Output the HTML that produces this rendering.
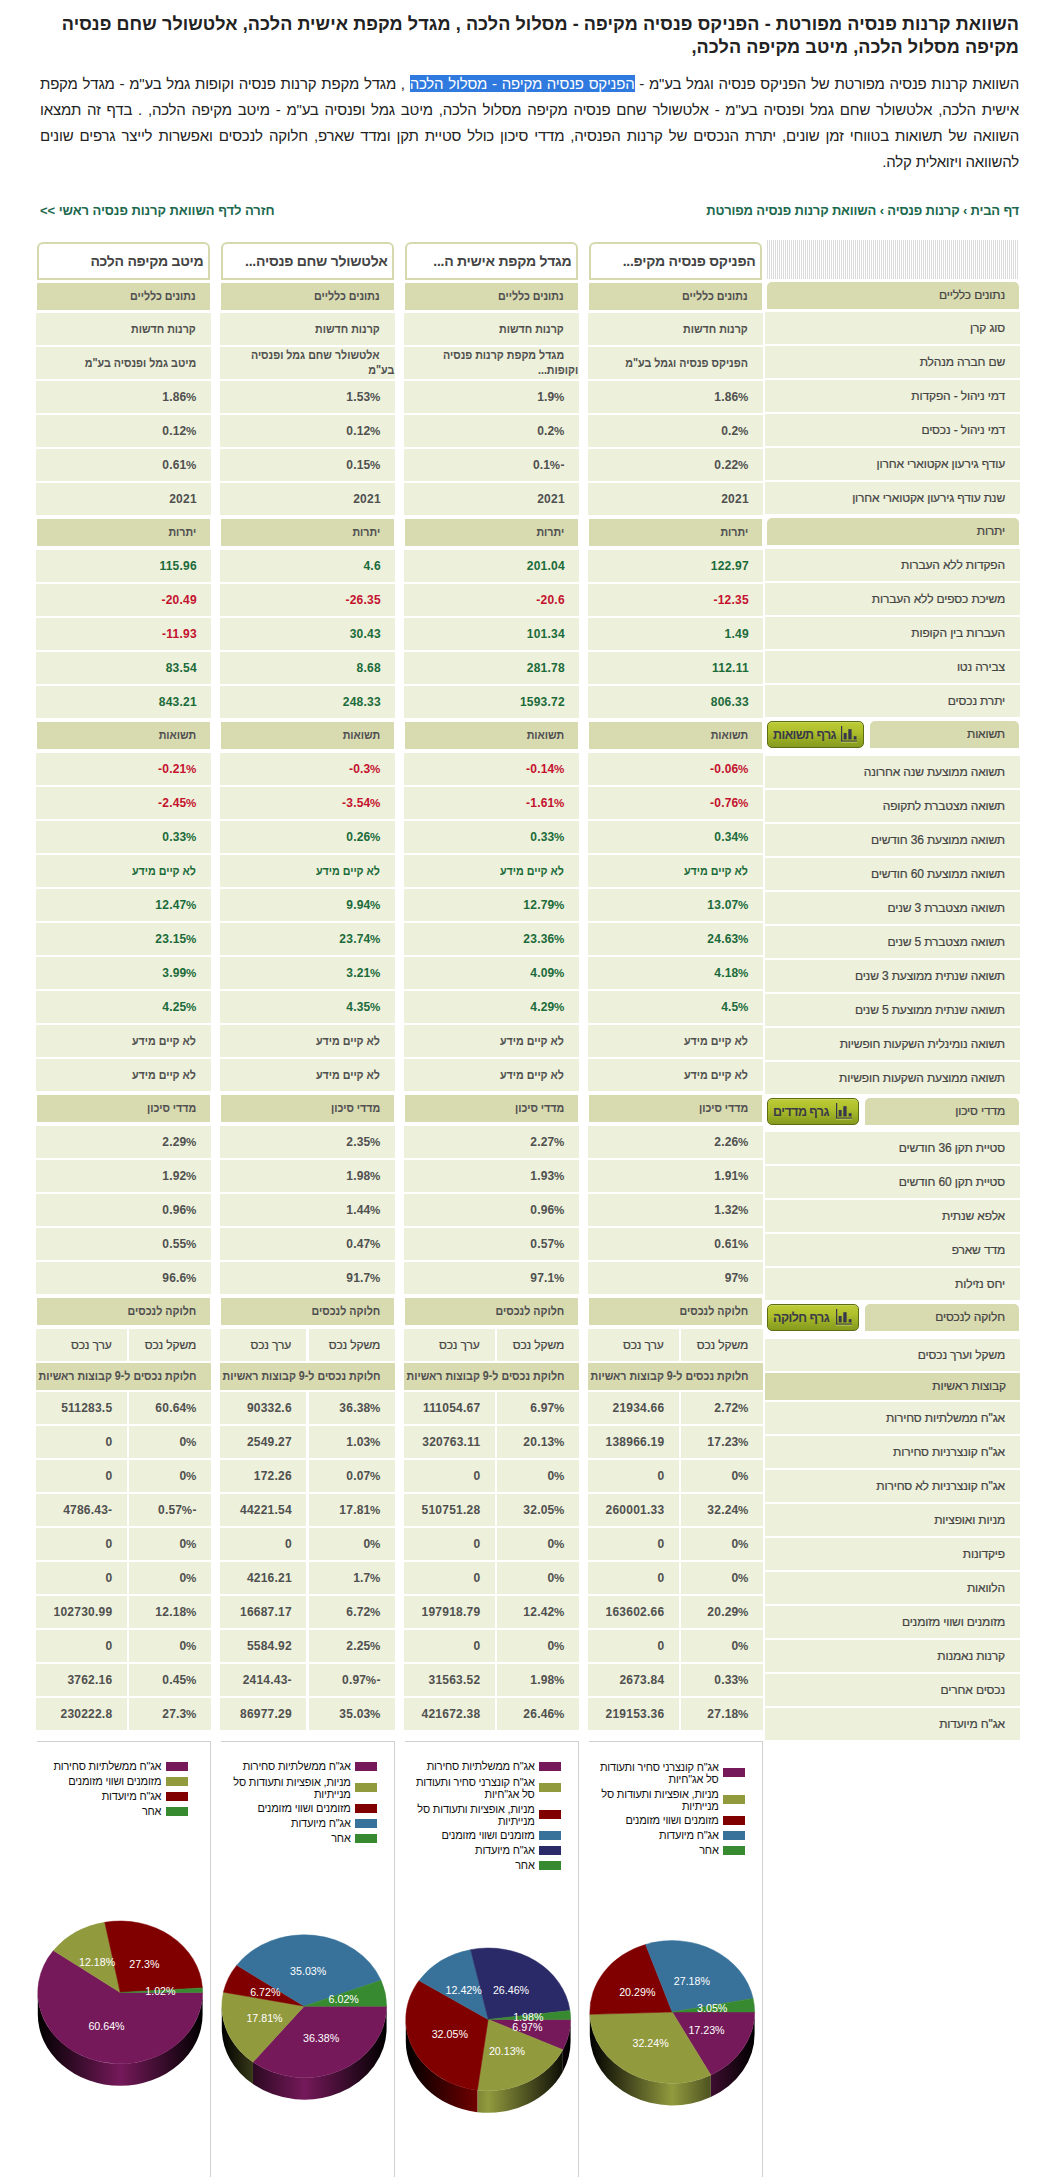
<!DOCTYPE html><html lang="he" dir="rtl"><head><meta charset="utf-8"><title>השוואת קרנות פנסיה</title><style>
html,body{margin:0;padding:0;background:#fff;}
body{width:1064px;height:2177px;position:relative;overflow:hidden;direction:rtl;font-family:"Liberation Sans",sans-serif;color:#444444;}
.abs{position:absolute;box-sizing:border-box;}
h1{position:absolute;margin:0;right:45px;left:40px;top:12.8px;font-size:18px;line-height:23px;font-weight:bold;color:#222;white-space:nowrap;letter-spacing:0.08px;}
p.intro{position:absolute;margin:0;right:45px;left:40px;top:71px;font-size:15px;line-height:26px;color:#222;letter-spacing:-0.2px;}
p.intro span.l{display:block;text-align:justify;text-align-last:justify;}
p.intro span.last{display:block;text-align:right;}
.sel{background:#3079de;color:#fff;}
.bc{position:absolute;top:203.2px;font-size:13px;font-weight:bold;color:#1b684d;line-height:16px;white-space:nowrap;letter-spacing:-0.17px;}
.hdr{position:absolute;box-sizing:border-box;background:#d8dab0;height:27px;line-height:27px;font-size:12px;text-align:right;padding-right:14px;white-space:nowrap;color:#444444;}
.row{position:absolute;box-sizing:border-box;background:#edf0da;height:32px;line-height:32px;font-size:12px;text-align:right;padding-right:15px;white-space:nowrap;color:#444444;}
.lab{letter-spacing:-0.15px;-webkit-text-stroke:0.2px #444;}
.d span[dir=ltr]{font-size:12px;letter-spacing:0.22px;position:relative;left:0.8px;}
.pc{font-size:11.6px;letter-spacing:0;margin-right:0.5px;margin-left:-0.5px;}
.lab.hdr{border-radius:5px 5px 0 0;padding-right:14px;}
.sx{display:inline-block;transform:scaleX(0.89);transform-origin:100% 50%;white-space:nowrap;}
.d{font-weight:bold;color:#505050;}
.g{color:#1b6b3a;}
.r{color:#c4122f;}
.title{position:absolute;box-sizing:border-box;border:2px solid #d6d9ae;border-radius:6px 6px 0 0;background:#fff;height:38px;line-height:35px;font-size:14px;font-weight:bold;text-align:right;padding-right:4.5px;letter-spacing:-0.25px;white-space:nowrap;color:#444;}
.two{line-height:15px;padding-top:1px;padding-right:1px;}
.btn{position:absolute;box-sizing:border-box;height:27px;border:1px solid #5d6d12;border-radius:5px;background:linear-gradient(#bccb35,#aebf2c 40%,#94a823 75%,#869b1f);box-shadow:inset 0 1px 0 rgba(255,255,255,.18);font-size:12.5px;font-weight:bold;color:#3a3a48;line-height:26px;text-align:left;padding-left:5px;white-space:nowrap;letter-spacing:-0.55px;}
.chart{position:absolute;box-sizing:border-box;border-top:1px solid #d0d0d0;border-right:1px solid #d0d0d0;top:1741px;height:440px;overflow:hidden;}
.leg{position:absolute;font-size:11px;line-height:12.5px;color:#111;text-align:right;white-space:nowrap;letter-spacing:-0.2px;}
.sw{position:absolute;width:22px;height:9px;}
</style></head><body>
<h1>השוואת קרנות פנסיה מפורטת - הפניקס פנסיה מקיפה - מסלול הלכה , מגדל מקפת אישית הלכה, אלטשולר שחם פנסיה<br>מקיפה מסלול הלכה, מיטב מקיפה הלכה,</h1>
<p class="intro"><span class="l">השוואת קרנות פנסיה מפורטת של הפניקס פנסיה וגמל בע"מ - <span class="sel">הפניקס פנסיה מקיפה - מסלול הלכה</span> , מגדל מקפת קרנות פנסיה וקופות גמל בע"מ - מגדל מקפת</span><span class="l">אישית הלכה, אלטשולר שחם גמל ופנסיה בע"מ - אלטשולר שחם פנסיה מקיפה מסלול הלכה, מיטב גמל ופנסיה בע"מ - מיטב מקיפה הלכה, . בדף זה תמצאו</span><span class="l">השוואה של תשואות בטווחי זמן שונים, יתרת הנכסים של קרנות הפנסיה, מדדי סיכון כולל סטיית תקן ומדד שארפ, חלוקה לנכסים ואפשרות לייצר גרפים שונים</span><span class="last">להשוואה ויזואלית קלה.</span></p>
<div class="bc" style="right:45px">דף הבית › קרנות פנסיה › השוואת קרנות פנסיה מפורטת</div>
<div class="bc" style="left:40px;letter-spacing:-0.05px">חזרה לדף השוואת קרנות פנסיה ראשי &gt;&gt;</div>
<div class="abs" style="left:767px;top:240px;width:252px;height:39px;background:repeating-linear-gradient(90deg,#dcdcdc 0,#dcdcdc 1px,#fff 1px,#fff 2px)"></div>
<div class="hdr lab" style="left:767px;width:252px;top:282px;height:27px">נתונים כלליים</div>
<div class="row lab" style="left:765px;width:255px;top:312px;height:32px;line-height:32px">סוג קרן</div>
<div class="row lab" style="left:765px;width:255px;top:346px;height:32px;line-height:32px">שם חברה מנהלת</div>
<div class="row lab" style="left:765px;width:255px;top:380px;height:32px;line-height:32px">דמי ניהול - הפקדות</div>
<div class="row lab" style="left:765px;width:255px;top:414px;height:32px;line-height:32px">דמי ניהול - נכסים</div>
<div class="row lab" style="left:765px;width:255px;top:448px;height:32px;line-height:32px">עודף גירעון אקטוארי אחרון</div>
<div class="row lab" style="left:765px;width:255px;top:482px;height:32px;line-height:32px">שנת עודף גירעון אקטוארי אחרון</div>
<div class="hdr lab" style="left:767px;width:252px;top:518px;height:27px">יתרות</div>
<div class="row lab" style="left:765px;width:255px;top:549px;height:32px;line-height:32px">הפקדות ללא העברות</div>
<div class="row lab" style="left:765px;width:255px;top:583px;height:32px;line-height:32px">משיכת כספים ללא העברות</div>
<div class="row lab" style="left:765px;width:255px;top:617px;height:32px;line-height:32px">העברות בין הקופות</div>
<div class="row lab" style="left:765px;width:255px;top:651px;height:32px;line-height:32px">צבירה נטו</div>
<div class="row lab" style="left:765px;width:255px;top:685px;height:32px;line-height:32px">יתרת נכסים</div>
<div class="hdr lab" style="left:870px;width:149px;top:721px;height:27px">תשואות</div>
<div class="btn" style="left:767px;width:97px;top:721px">גרף תשואות<svg width="18" height="17" viewBox="0 0 18 17" style="position:absolute;top:4px;right:4.7px"><g fill="#37364f"><rect x="1" y="0" width="1.2" height="15.5"/><rect x="1" y="14.6" width="16" height="1.1"/><rect x="3.7" y="7" width="2.9" height="6.4"/><rect x="8.3" y="3.2" width="3.3" height="10.2"/><rect x="13.7" y="10.2" width="2.8" height="3.2"/></g><rect x="1" y="15.7" width="16" height="1" fill="#d5e07a" opacity=".6"/></svg></div>
<div class="row lab" style="left:765px;width:255px;top:756px;height:32px;line-height:32px">תשואה ממוצעת שנה אחרונה</div>
<div class="row lab" style="left:765px;width:255px;top:790px;height:32px;line-height:32px">תשואה מצטברת לתקופה</div>
<div class="row lab" style="left:765px;width:255px;top:824px;height:32px;line-height:32px">תשואה ממוצעת 36 חודשים</div>
<div class="row lab" style="left:765px;width:255px;top:858px;height:32px;line-height:32px">תשואה ממוצעת 60 חודשים</div>
<div class="row lab" style="left:765px;width:255px;top:892px;height:32px;line-height:32px">תשואה מצטברת 3 שנים</div>
<div class="row lab" style="left:765px;width:255px;top:926px;height:32px;line-height:32px">תשואה מצטברת 5 שנים</div>
<div class="row lab" style="left:765px;width:255px;top:960px;height:32px;line-height:32px">תשואה שנתית ממוצעת 3 שנים</div>
<div class="row lab" style="left:765px;width:255px;top:994px;height:32px;line-height:32px">תשואה שנתית ממוצעת 5 שנים</div>
<div class="row lab" style="left:765px;width:255px;top:1028px;height:32px;line-height:32px">תשואה נומינלית השקעות חופשיות</div>
<div class="row lab" style="left:765px;width:255px;top:1062px;height:32px;line-height:32px">תשואה ממוצעת השקעות חופשיות</div>
<div class="hdr lab" style="left:865px;width:154px;top:1098px;height:27px">מדדי סיכון</div>
<div class="btn" style="left:767px;width:92px;top:1098px">גרף מדדים<svg width="18" height="17" viewBox="0 0 18 17" style="position:absolute;top:4px;right:4.7px"><g fill="#37364f"><rect x="1" y="0" width="1.2" height="15.5"/><rect x="1" y="14.6" width="16" height="1.1"/><rect x="3.7" y="7" width="2.9" height="6.4"/><rect x="8.3" y="3.2" width="3.3" height="10.2"/><rect x="13.7" y="10.2" width="2.8" height="3.2"/></g><rect x="1" y="15.7" width="16" height="1" fill="#d5e07a" opacity=".6"/></svg></div>
<div class="row lab" style="left:765px;width:255px;top:1132px;height:32px;line-height:32px">סטיית תקן 36 חודשים</div>
<div class="row lab" style="left:765px;width:255px;top:1166px;height:32px;line-height:32px">סטיית תקן 60 חודשים</div>
<div class="row lab" style="left:765px;width:255px;top:1200px;height:32px;line-height:32px">אלפא שנתית</div>
<div class="row lab" style="left:765px;width:255px;top:1234px;height:32px;line-height:32px">מדד שארפ</div>
<div class="row lab" style="left:765px;width:255px;top:1268px;height:32px;line-height:32px">יחס נזילות</div>
<div class="hdr lab" style="left:865px;width:154px;top:1304px;height:27px">חלוקה לנכסים</div>
<div class="btn" style="left:767px;width:92px;top:1304px">גרף חלוקה<svg width="18" height="17" viewBox="0 0 18 17" style="position:absolute;top:4px;right:4.7px"><g fill="#37364f"><rect x="1" y="0" width="1.2" height="15.5"/><rect x="1" y="14.6" width="16" height="1.1"/><rect x="3.7" y="7" width="2.9" height="6.4"/><rect x="8.3" y="3.2" width="3.3" height="10.2"/><rect x="13.7" y="10.2" width="2.8" height="3.2"/></g><rect x="1" y="15.7" width="16" height="1" fill="#d5e07a" opacity=".6"/></svg></div>
<div class="row lab" style="left:765px;width:255px;top:1339px;height:32px;line-height:32px">משקל וערך נכסים</div>
<div class="hdr" style="left:765px;width:255px;top:1373px;letter-spacing:-0.15px;-webkit-text-stroke:0.2px #444">קבוצות ראשיות</div>
<div class="row lab" style="left:765px;width:255px;top:1402px;height:32px;line-height:32px">אג"ח ממשלתיות סחירות</div>
<div class="row lab" style="left:765px;width:255px;top:1436px;height:32px;line-height:32px">אג"ח קונצרניות סחירות</div>
<div class="row lab" style="left:765px;width:255px;top:1470px;height:32px;line-height:32px">אג"ח קונצרניות לא סחירות</div>
<div class="row lab" style="left:765px;width:255px;top:1504px;height:32px;line-height:32px">מניות ואופציות</div>
<div class="row lab" style="left:765px;width:255px;top:1538px;height:32px;line-height:32px">פיקדונות</div>
<div class="row lab" style="left:765px;width:255px;top:1572px;height:32px;line-height:32px">הלוואות</div>
<div class="row lab" style="left:765px;width:255px;top:1606px;height:32px;line-height:32px">מזומנים ושווי מזומנים</div>
<div class="row lab" style="left:765px;width:255px;top:1640px;height:32px;line-height:32px">קרנות נאמנות</div>
<div class="row lab" style="left:765px;width:255px;top:1674px;height:32px;line-height:32px">נכסים אחרים</div>
<div class="row lab" style="left:765px;width:255px;top:1708px;height:32px;line-height:32px">אג"ח מיועדות</div>
<div class="title" style="left:589px;width:173px;top:242px">הפניקס פנסיה מקיפ...</div>
<div class="hdr d" style="left:589px;width:173px;top:283px;"><span class="sx">נתונים כלליים</span></div>
<div class="row d " style="left:588px;width:175px;top:313px;height:32px;line-height:32px"><span class="sx">קרנות חדשות</span></div>
<div class="row d " style="left:588px;width:175px;top:347px;height:32px;line-height:32px"><span class="sx">הפניקס פנסיה וגמל בע"מ</span></div>
<div class="row d " style="left:588px;width:175px;top:381px;height:32px;line-height:32px"><span dir="ltr">1.86<span class="pc">%</span></span></div>
<div class="row d " style="left:588px;width:175px;top:415px;height:32px;line-height:32px"><span dir="ltr">0.2<span class="pc">%</span></span></div>
<div class="row d " style="left:588px;width:175px;top:449px;height:32px;line-height:32px"><span dir="ltr">0.22<span class="pc">%</span></span></div>
<div class="row d " style="left:588px;width:175px;top:483px;height:32px;line-height:32px"><span dir="ltr">2021</span></div>
<div class="hdr d" style="left:589px;width:173px;top:519px;"><span class="sx">יתרות</span></div>
<div class="row d g" style="left:588px;width:175px;top:550px;height:32px;line-height:32px"><span dir="ltr">122.97</span></div>
<div class="row d r" style="left:588px;width:175px;top:584px;height:32px;line-height:32px"><span dir="ltr">-12.35</span></div>
<div class="row d g" style="left:588px;width:175px;top:618px;height:32px;line-height:32px"><span dir="ltr">1.49</span></div>
<div class="row d g" style="left:588px;width:175px;top:652px;height:32px;line-height:32px"><span dir="ltr">112.11</span></div>
<div class="row d g" style="left:588px;width:175px;top:686px;height:32px;line-height:32px"><span dir="ltr">806.33</span></div>
<div class="hdr d" style="left:589px;width:173px;top:722px;"><span class="sx">תשואות</span></div>
<div class="row d r" style="left:588px;width:175px;top:753px;height:32px;line-height:32px"><span dir="ltr">-0.06<span class="pc">%</span></span></div>
<div class="row d r" style="left:588px;width:175px;top:787px;height:32px;line-height:32px"><span dir="ltr">-0.76<span class="pc">%</span></span></div>
<div class="row d g" style="left:588px;width:175px;top:821px;height:32px;line-height:32px"><span dir="ltr">0.34<span class="pc">%</span></span></div>
<div class="row d g" style="left:588px;width:175px;top:855px;height:32px;line-height:32px"><span class="sx">לא קיים מידע</span></div>
<div class="row d g" style="left:588px;width:175px;top:889px;height:32px;line-height:32px"><span dir="ltr">13.07<span class="pc">%</span></span></div>
<div class="row d g" style="left:588px;width:175px;top:923px;height:32px;line-height:32px"><span dir="ltr">24.63<span class="pc">%</span></span></div>
<div class="row d g" style="left:588px;width:175px;top:957px;height:32px;line-height:32px"><span dir="ltr">4.18<span class="pc">%</span></span></div>
<div class="row d g" style="left:588px;width:175px;top:991px;height:32px;line-height:32px"><span dir="ltr">4.5<span class="pc">%</span></span></div>
<div class="row d " style="left:588px;width:175px;top:1025px;height:32px;line-height:32px"><span class="sx">לא קיים מידע</span></div>
<div class="row d " style="left:588px;width:175px;top:1059px;height:32px;line-height:32px"><span class="sx">לא קיים מידע</span></div>
<div class="hdr d" style="left:589px;width:173px;top:1095px;"><span class="sx">מדדי סיכון</span></div>
<div class="row d " style="left:588px;width:175px;top:1126px;height:32px;line-height:32px"><span dir="ltr">2.26<span class="pc">%</span></span></div>
<div class="row d " style="left:588px;width:175px;top:1160px;height:32px;line-height:32px"><span dir="ltr">1.91<span class="pc">%</span></span></div>
<div class="row d " style="left:588px;width:175px;top:1194px;height:32px;line-height:32px"><span dir="ltr">1.32<span class="pc">%</span></span></div>
<div class="row d " style="left:588px;width:175px;top:1228px;height:32px;line-height:32px"><span dir="ltr">0.61<span class="pc">%</span></span></div>
<div class="row d " style="left:588px;width:175px;top:1262px;height:32px;line-height:32px"><span dir="ltr">97<span class="pc">%</span></span></div>
<div class="hdr d" style="left:589px;width:173px;top:1298px;"><span class="sx">חלוקה לנכסים</span></div>
<div class="row lab" style="left:681px;width:82px;top:1329px">משקל נכס</div>
<div class="row lab" style="left:588px;width:90.5px;top:1329px">ערך נכס</div>
<div class="hdr d" style="left:588px;width:175px;top:1363px;padding-right:14px"><span class="sx">חלוקת נכסים ל-9 קבוצות ראשיות</span></div>
<div class="row d" style="left:681px;width:82px;top:1392px"><span dir="ltr">2.72<span class="pc">%</span></span></div>
<div class="row d" style="left:588px;width:90.5px;top:1392px"><span dir="ltr">21934.66</span></div>
<div class="row d" style="left:681px;width:82px;top:1426px"><span dir="ltr">17.23<span class="pc">%</span></span></div>
<div class="row d" style="left:588px;width:90.5px;top:1426px"><span dir="ltr">138966.19</span></div>
<div class="row d" style="left:681px;width:82px;top:1460px"><span dir="ltr">0<span class="pc">%</span></span></div>
<div class="row d" style="left:588px;width:90.5px;top:1460px"><span dir="ltr">0</span></div>
<div class="row d" style="left:681px;width:82px;top:1494px"><span dir="ltr">32.24<span class="pc">%</span></span></div>
<div class="row d" style="left:588px;width:90.5px;top:1494px"><span dir="ltr">260001.33</span></div>
<div class="row d" style="left:681px;width:82px;top:1528px"><span dir="ltr">0<span class="pc">%</span></span></div>
<div class="row d" style="left:588px;width:90.5px;top:1528px"><span dir="ltr">0</span></div>
<div class="row d" style="left:681px;width:82px;top:1562px"><span dir="ltr">0<span class="pc">%</span></span></div>
<div class="row d" style="left:588px;width:90.5px;top:1562px"><span dir="ltr">0</span></div>
<div class="row d" style="left:681px;width:82px;top:1596px"><span dir="ltr">20.29<span class="pc">%</span></span></div>
<div class="row d" style="left:588px;width:90.5px;top:1596px"><span dir="ltr">163602.66</span></div>
<div class="row d" style="left:681px;width:82px;top:1630px"><span dir="ltr">0<span class="pc">%</span></span></div>
<div class="row d" style="left:588px;width:90.5px;top:1630px"><span dir="ltr">0</span></div>
<div class="row d" style="left:681px;width:82px;top:1664px"><span dir="ltr">0.33<span class="pc">%</span></span></div>
<div class="row d" style="left:588px;width:90.5px;top:1664px"><span dir="ltr">2673.84</span></div>
<div class="row d" style="left:681px;width:82px;top:1698px"><span dir="ltr">27.18<span class="pc">%</span></span></div>
<div class="row d" style="left:588px;width:90.5px;top:1698px"><span dir="ltr">219153.36</span></div>
<div class="title" style="left:405px;width:173px;top:242px">מגדל מקפת אישית ה...</div>
<div class="hdr d" style="left:405px;width:173px;top:283px;"><span class="sx">נתונים כלליים</span></div>
<div class="row d " style="left:404px;width:175px;top:313px;height:32px;line-height:32px"><span class="sx">קרנות חדשות</span></div>
<div class="row d  two" style="left:404px;width:175px;top:347px;height:32px;"><span class="sx" style="margin-right:14px">מגדל מקפת קרנות פנסיה</span><br><span class="sx">וקופות...</span></div>
<div class="row d " style="left:404px;width:175px;top:381px;height:32px;line-height:32px"><span dir="ltr">1.9<span class="pc">%</span></span></div>
<div class="row d " style="left:404px;width:175px;top:415px;height:32px;line-height:32px"><span dir="ltr">0.2<span class="pc">%</span></span></div>
<div class="row d " style="left:404px;width:175px;top:449px;height:32px;line-height:32px"><span dir="ltr">0.1<span class="pc">%</span>-</span></div>
<div class="row d " style="left:404px;width:175px;top:483px;height:32px;line-height:32px"><span dir="ltr">2021</span></div>
<div class="hdr d" style="left:405px;width:173px;top:519px;"><span class="sx">יתרות</span></div>
<div class="row d g" style="left:404px;width:175px;top:550px;height:32px;line-height:32px"><span dir="ltr">201.04</span></div>
<div class="row d r" style="left:404px;width:175px;top:584px;height:32px;line-height:32px"><span dir="ltr">-20.6</span></div>
<div class="row d g" style="left:404px;width:175px;top:618px;height:32px;line-height:32px"><span dir="ltr">101.34</span></div>
<div class="row d g" style="left:404px;width:175px;top:652px;height:32px;line-height:32px"><span dir="ltr">281.78</span></div>
<div class="row d g" style="left:404px;width:175px;top:686px;height:32px;line-height:32px"><span dir="ltr">1593.72</span></div>
<div class="hdr d" style="left:405px;width:173px;top:722px;"><span class="sx">תשואות</span></div>
<div class="row d r" style="left:404px;width:175px;top:753px;height:32px;line-height:32px"><span dir="ltr">-0.14<span class="pc">%</span></span></div>
<div class="row d r" style="left:404px;width:175px;top:787px;height:32px;line-height:32px"><span dir="ltr">-1.61<span class="pc">%</span></span></div>
<div class="row d g" style="left:404px;width:175px;top:821px;height:32px;line-height:32px"><span dir="ltr">0.33<span class="pc">%</span></span></div>
<div class="row d g" style="left:404px;width:175px;top:855px;height:32px;line-height:32px"><span class="sx">לא קיים מידע</span></div>
<div class="row d g" style="left:404px;width:175px;top:889px;height:32px;line-height:32px"><span dir="ltr">12.79<span class="pc">%</span></span></div>
<div class="row d g" style="left:404px;width:175px;top:923px;height:32px;line-height:32px"><span dir="ltr">23.36<span class="pc">%</span></span></div>
<div class="row d g" style="left:404px;width:175px;top:957px;height:32px;line-height:32px"><span dir="ltr">4.09<span class="pc">%</span></span></div>
<div class="row d g" style="left:404px;width:175px;top:991px;height:32px;line-height:32px"><span dir="ltr">4.29<span class="pc">%</span></span></div>
<div class="row d " style="left:404px;width:175px;top:1025px;height:32px;line-height:32px"><span class="sx">לא קיים מידע</span></div>
<div class="row d " style="left:404px;width:175px;top:1059px;height:32px;line-height:32px"><span class="sx">לא קיים מידע</span></div>
<div class="hdr d" style="left:405px;width:173px;top:1095px;"><span class="sx">מדדי סיכון</span></div>
<div class="row d " style="left:404px;width:175px;top:1126px;height:32px;line-height:32px"><span dir="ltr">2.27<span class="pc">%</span></span></div>
<div class="row d " style="left:404px;width:175px;top:1160px;height:32px;line-height:32px"><span dir="ltr">1.93<span class="pc">%</span></span></div>
<div class="row d " style="left:404px;width:175px;top:1194px;height:32px;line-height:32px"><span dir="ltr">0.96<span class="pc">%</span></span></div>
<div class="row d " style="left:404px;width:175px;top:1228px;height:32px;line-height:32px"><span dir="ltr">0.57<span class="pc">%</span></span></div>
<div class="row d " style="left:404px;width:175px;top:1262px;height:32px;line-height:32px"><span dir="ltr">97.1<span class="pc">%</span></span></div>
<div class="hdr d" style="left:405px;width:173px;top:1298px;"><span class="sx">חלוקה לנכסים</span></div>
<div class="row lab" style="left:497px;width:82px;top:1329px">משקל נכס</div>
<div class="row lab" style="left:404px;width:90.5px;top:1329px">ערך נכס</div>
<div class="hdr d" style="left:404px;width:175px;top:1363px;padding-right:14px"><span class="sx">חלוקת נכסים ל-9 קבוצות ראשיות</span></div>
<div class="row d" style="left:497px;width:82px;top:1392px"><span dir="ltr">6.97<span class="pc">%</span></span></div>
<div class="row d" style="left:404px;width:90.5px;top:1392px"><span dir="ltr">111054.67</span></div>
<div class="row d" style="left:497px;width:82px;top:1426px"><span dir="ltr">20.13<span class="pc">%</span></span></div>
<div class="row d" style="left:404px;width:90.5px;top:1426px"><span dir="ltr">320763.11</span></div>
<div class="row d" style="left:497px;width:82px;top:1460px"><span dir="ltr">0<span class="pc">%</span></span></div>
<div class="row d" style="left:404px;width:90.5px;top:1460px"><span dir="ltr">0</span></div>
<div class="row d" style="left:497px;width:82px;top:1494px"><span dir="ltr">32.05<span class="pc">%</span></span></div>
<div class="row d" style="left:404px;width:90.5px;top:1494px"><span dir="ltr">510751.28</span></div>
<div class="row d" style="left:497px;width:82px;top:1528px"><span dir="ltr">0<span class="pc">%</span></span></div>
<div class="row d" style="left:404px;width:90.5px;top:1528px"><span dir="ltr">0</span></div>
<div class="row d" style="left:497px;width:82px;top:1562px"><span dir="ltr">0<span class="pc">%</span></span></div>
<div class="row d" style="left:404px;width:90.5px;top:1562px"><span dir="ltr">0</span></div>
<div class="row d" style="left:497px;width:82px;top:1596px"><span dir="ltr">12.42<span class="pc">%</span></span></div>
<div class="row d" style="left:404px;width:90.5px;top:1596px"><span dir="ltr">197918.79</span></div>
<div class="row d" style="left:497px;width:82px;top:1630px"><span dir="ltr">0<span class="pc">%</span></span></div>
<div class="row d" style="left:404px;width:90.5px;top:1630px"><span dir="ltr">0</span></div>
<div class="row d" style="left:497px;width:82px;top:1664px"><span dir="ltr">1.98<span class="pc">%</span></span></div>
<div class="row d" style="left:404px;width:90.5px;top:1664px"><span dir="ltr">31563.52</span></div>
<div class="row d" style="left:497px;width:82px;top:1698px"><span dir="ltr">26.46<span class="pc">%</span></span></div>
<div class="row d" style="left:404px;width:90.5px;top:1698px"><span dir="ltr">421672.38</span></div>
<div class="title" style="left:221px;width:173px;top:242px">אלטשולר שחם פנסיה...</div>
<div class="hdr d" style="left:221px;width:173px;top:283px;"><span class="sx">נתונים כלליים</span></div>
<div class="row d " style="left:220px;width:175px;top:313px;height:32px;line-height:32px"><span class="sx">קרנות חדשות</span></div>
<div class="row d  two" style="left:220px;width:175px;top:347px;height:32px;"><span class="sx" style="margin-right:14px">אלטשולר שחם גמל ופנסיה</span><br><span class="sx">בע"מ</span></div>
<div class="row d " style="left:220px;width:175px;top:381px;height:32px;line-height:32px"><span dir="ltr">1.53<span class="pc">%</span></span></div>
<div class="row d " style="left:220px;width:175px;top:415px;height:32px;line-height:32px"><span dir="ltr">0.12<span class="pc">%</span></span></div>
<div class="row d " style="left:220px;width:175px;top:449px;height:32px;line-height:32px"><span dir="ltr">0.15<span class="pc">%</span></span></div>
<div class="row d " style="left:220px;width:175px;top:483px;height:32px;line-height:32px"><span dir="ltr">2021</span></div>
<div class="hdr d" style="left:221px;width:173px;top:519px;"><span class="sx">יתרות</span></div>
<div class="row d g" style="left:220px;width:175px;top:550px;height:32px;line-height:32px"><span dir="ltr">4.6</span></div>
<div class="row d r" style="left:220px;width:175px;top:584px;height:32px;line-height:32px"><span dir="ltr">-26.35</span></div>
<div class="row d g" style="left:220px;width:175px;top:618px;height:32px;line-height:32px"><span dir="ltr">30.43</span></div>
<div class="row d g" style="left:220px;width:175px;top:652px;height:32px;line-height:32px"><span dir="ltr">8.68</span></div>
<div class="row d g" style="left:220px;width:175px;top:686px;height:32px;line-height:32px"><span dir="ltr">248.33</span></div>
<div class="hdr d" style="left:221px;width:173px;top:722px;"><span class="sx">תשואות</span></div>
<div class="row d r" style="left:220px;width:175px;top:753px;height:32px;line-height:32px"><span dir="ltr">-0.3<span class="pc">%</span></span></div>
<div class="row d r" style="left:220px;width:175px;top:787px;height:32px;line-height:32px"><span dir="ltr">-3.54<span class="pc">%</span></span></div>
<div class="row d g" style="left:220px;width:175px;top:821px;height:32px;line-height:32px"><span dir="ltr">0.26<span class="pc">%</span></span></div>
<div class="row d g" style="left:220px;width:175px;top:855px;height:32px;line-height:32px"><span class="sx">לא קיים מידע</span></div>
<div class="row d g" style="left:220px;width:175px;top:889px;height:32px;line-height:32px"><span dir="ltr">9.94<span class="pc">%</span></span></div>
<div class="row d g" style="left:220px;width:175px;top:923px;height:32px;line-height:32px"><span dir="ltr">23.74<span class="pc">%</span></span></div>
<div class="row d g" style="left:220px;width:175px;top:957px;height:32px;line-height:32px"><span dir="ltr">3.21<span class="pc">%</span></span></div>
<div class="row d g" style="left:220px;width:175px;top:991px;height:32px;line-height:32px"><span dir="ltr">4.35<span class="pc">%</span></span></div>
<div class="row d " style="left:220px;width:175px;top:1025px;height:32px;line-height:32px"><span class="sx">לא קיים מידע</span></div>
<div class="row d " style="left:220px;width:175px;top:1059px;height:32px;line-height:32px"><span class="sx">לא קיים מידע</span></div>
<div class="hdr d" style="left:221px;width:173px;top:1095px;"><span class="sx">מדדי סיכון</span></div>
<div class="row d " style="left:220px;width:175px;top:1126px;height:32px;line-height:32px"><span dir="ltr">2.35<span class="pc">%</span></span></div>
<div class="row d " style="left:220px;width:175px;top:1160px;height:32px;line-height:32px"><span dir="ltr">1.98<span class="pc">%</span></span></div>
<div class="row d " style="left:220px;width:175px;top:1194px;height:32px;line-height:32px"><span dir="ltr">1.44<span class="pc">%</span></span></div>
<div class="row d " style="left:220px;width:175px;top:1228px;height:32px;line-height:32px"><span dir="ltr">0.47<span class="pc">%</span></span></div>
<div class="row d " style="left:220px;width:175px;top:1262px;height:32px;line-height:32px"><span dir="ltr">91.7<span class="pc">%</span></span></div>
<div class="hdr d" style="left:221px;width:173px;top:1298px;"><span class="sx">חלוקה לנכסים</span></div>
<div class="row lab" style="left:308.5px;width:86.5px;top:1329px">משקל נכס</div>
<div class="row lab" style="left:220px;width:86.0px;top:1329px">ערך נכס</div>
<div class="hdr d" style="left:220px;width:175px;top:1363px;padding-right:14px"><span class="sx">חלוקת נכסים ל-9 קבוצות ראשיות</span></div>
<div class="row d" style="left:308.5px;width:86.5px;top:1392px"><span dir="ltr">36.38<span class="pc">%</span></span></div>
<div class="row d" style="left:220px;width:86.0px;top:1392px"><span dir="ltr">90332.6</span></div>
<div class="row d" style="left:308.5px;width:86.5px;top:1426px"><span dir="ltr">1.03<span class="pc">%</span></span></div>
<div class="row d" style="left:220px;width:86.0px;top:1426px"><span dir="ltr">2549.27</span></div>
<div class="row d" style="left:308.5px;width:86.5px;top:1460px"><span dir="ltr">0.07<span class="pc">%</span></span></div>
<div class="row d" style="left:220px;width:86.0px;top:1460px"><span dir="ltr">172.26</span></div>
<div class="row d" style="left:308.5px;width:86.5px;top:1494px"><span dir="ltr">17.81<span class="pc">%</span></span></div>
<div class="row d" style="left:220px;width:86.0px;top:1494px"><span dir="ltr">44221.54</span></div>
<div class="row d" style="left:308.5px;width:86.5px;top:1528px"><span dir="ltr">0<span class="pc">%</span></span></div>
<div class="row d" style="left:220px;width:86.0px;top:1528px"><span dir="ltr">0</span></div>
<div class="row d" style="left:308.5px;width:86.5px;top:1562px"><span dir="ltr">1.7<span class="pc">%</span></span></div>
<div class="row d" style="left:220px;width:86.0px;top:1562px"><span dir="ltr">4216.21</span></div>
<div class="row d" style="left:308.5px;width:86.5px;top:1596px"><span dir="ltr">6.72<span class="pc">%</span></span></div>
<div class="row d" style="left:220px;width:86.0px;top:1596px"><span dir="ltr">16687.17</span></div>
<div class="row d" style="left:308.5px;width:86.5px;top:1630px"><span dir="ltr">2.25<span class="pc">%</span></span></div>
<div class="row d" style="left:220px;width:86.0px;top:1630px"><span dir="ltr">5584.92</span></div>
<div class="row d" style="left:308.5px;width:86.5px;top:1664px"><span dir="ltr">0.97<span class="pc">%</span>-</span></div>
<div class="row d" style="left:220px;width:86.0px;top:1664px"><span dir="ltr">2414.43-</span></div>
<div class="row d" style="left:308.5px;width:86.5px;top:1698px"><span dir="ltr">35.03<span class="pc">%</span></span></div>
<div class="row d" style="left:220px;width:86.0px;top:1698px"><span dir="ltr">86977.29</span></div>
<div class="title" style="left:37px;width:173px;top:242px">מיטב מקיפה הלכה</div>
<div class="hdr d" style="left:37px;width:173px;top:283px;"><span class="sx">נתונים כלליים</span></div>
<div class="row d " style="left:36px;width:175px;top:313px;height:32px;line-height:32px"><span class="sx">קרנות חדשות</span></div>
<div class="row d " style="left:36px;width:175px;top:347px;height:32px;line-height:32px"><span class="sx">מיטב גמל ופנסיה בע"מ</span></div>
<div class="row d " style="left:36px;width:175px;top:381px;height:32px;line-height:32px"><span dir="ltr">1.86<span class="pc">%</span></span></div>
<div class="row d " style="left:36px;width:175px;top:415px;height:32px;line-height:32px"><span dir="ltr">0.12<span class="pc">%</span></span></div>
<div class="row d " style="left:36px;width:175px;top:449px;height:32px;line-height:32px"><span dir="ltr">0.61<span class="pc">%</span></span></div>
<div class="row d " style="left:36px;width:175px;top:483px;height:32px;line-height:32px"><span dir="ltr">2021</span></div>
<div class="hdr d" style="left:37px;width:173px;top:519px;"><span class="sx">יתרות</span></div>
<div class="row d g" style="left:36px;width:175px;top:550px;height:32px;line-height:32px"><span dir="ltr">115.96</span></div>
<div class="row d r" style="left:36px;width:175px;top:584px;height:32px;line-height:32px"><span dir="ltr">-20.49</span></div>
<div class="row d r" style="left:36px;width:175px;top:618px;height:32px;line-height:32px"><span dir="ltr">-11.93</span></div>
<div class="row d g" style="left:36px;width:175px;top:652px;height:32px;line-height:32px"><span dir="ltr">83.54</span></div>
<div class="row d g" style="left:36px;width:175px;top:686px;height:32px;line-height:32px"><span dir="ltr">843.21</span></div>
<div class="hdr d" style="left:37px;width:173px;top:722px;"><span class="sx">תשואות</span></div>
<div class="row d r" style="left:36px;width:175px;top:753px;height:32px;line-height:32px"><span dir="ltr">-0.21<span class="pc">%</span></span></div>
<div class="row d r" style="left:36px;width:175px;top:787px;height:32px;line-height:32px"><span dir="ltr">-2.45<span class="pc">%</span></span></div>
<div class="row d g" style="left:36px;width:175px;top:821px;height:32px;line-height:32px"><span dir="ltr">0.33<span class="pc">%</span></span></div>
<div class="row d g" style="left:36px;width:175px;top:855px;height:32px;line-height:32px"><span class="sx">לא קיים מידע</span></div>
<div class="row d g" style="left:36px;width:175px;top:889px;height:32px;line-height:32px"><span dir="ltr">12.47<span class="pc">%</span></span></div>
<div class="row d g" style="left:36px;width:175px;top:923px;height:32px;line-height:32px"><span dir="ltr">23.15<span class="pc">%</span></span></div>
<div class="row d g" style="left:36px;width:175px;top:957px;height:32px;line-height:32px"><span dir="ltr">3.99<span class="pc">%</span></span></div>
<div class="row d g" style="left:36px;width:175px;top:991px;height:32px;line-height:32px"><span dir="ltr">4.25<span class="pc">%</span></span></div>
<div class="row d " style="left:36px;width:175px;top:1025px;height:32px;line-height:32px"><span class="sx">לא קיים מידע</span></div>
<div class="row d " style="left:36px;width:175px;top:1059px;height:32px;line-height:32px"><span class="sx">לא קיים מידע</span></div>
<div class="hdr d" style="left:37px;width:173px;top:1095px;"><span class="sx">מדדי סיכון</span></div>
<div class="row d " style="left:36px;width:175px;top:1126px;height:32px;line-height:32px"><span dir="ltr">2.29<span class="pc">%</span></span></div>
<div class="row d " style="left:36px;width:175px;top:1160px;height:32px;line-height:32px"><span dir="ltr">1.92<span class="pc">%</span></span></div>
<div class="row d " style="left:36px;width:175px;top:1194px;height:32px;line-height:32px"><span dir="ltr">0.96<span class="pc">%</span></span></div>
<div class="row d " style="left:36px;width:175px;top:1228px;height:32px;line-height:32px"><span dir="ltr">0.55<span class="pc">%</span></span></div>
<div class="row d " style="left:36px;width:175px;top:1262px;height:32px;line-height:32px"><span dir="ltr">96.6<span class="pc">%</span></span></div>
<div class="hdr d" style="left:37px;width:173px;top:1298px;"><span class="sx">חלוקה לנכסים</span></div>
<div class="row lab" style="left:129px;width:82px;top:1329px">משקל נכס</div>
<div class="row lab" style="left:36px;width:90.5px;top:1329px">ערך נכס</div>
<div class="hdr d" style="left:36px;width:175px;top:1363px;padding-right:14px"><span class="sx">חלוקת נכסים ל-9 קבוצות ראשיות</span></div>
<div class="row d" style="left:129px;width:82px;top:1392px"><span dir="ltr">60.64<span class="pc">%</span></span></div>
<div class="row d" style="left:36px;width:90.5px;top:1392px"><span dir="ltr">511283.5</span></div>
<div class="row d" style="left:129px;width:82px;top:1426px"><span dir="ltr">0<span class="pc">%</span></span></div>
<div class="row d" style="left:36px;width:90.5px;top:1426px"><span dir="ltr">0</span></div>
<div class="row d" style="left:129px;width:82px;top:1460px"><span dir="ltr">0<span class="pc">%</span></span></div>
<div class="row d" style="left:36px;width:90.5px;top:1460px"><span dir="ltr">0</span></div>
<div class="row d" style="left:129px;width:82px;top:1494px"><span dir="ltr">0.57<span class="pc">%</span>-</span></div>
<div class="row d" style="left:36px;width:90.5px;top:1494px"><span dir="ltr">4786.43-</span></div>
<div class="row d" style="left:129px;width:82px;top:1528px"><span dir="ltr">0<span class="pc">%</span></span></div>
<div class="row d" style="left:36px;width:90.5px;top:1528px"><span dir="ltr">0</span></div>
<div class="row d" style="left:129px;width:82px;top:1562px"><span dir="ltr">0<span class="pc">%</span></span></div>
<div class="row d" style="left:36px;width:90.5px;top:1562px"><span dir="ltr">0</span></div>
<div class="row d" style="left:129px;width:82px;top:1596px"><span dir="ltr">12.18<span class="pc">%</span></span></div>
<div class="row d" style="left:36px;width:90.5px;top:1596px"><span dir="ltr">102730.99</span></div>
<div class="row d" style="left:129px;width:82px;top:1630px"><span dir="ltr">0<span class="pc">%</span></span></div>
<div class="row d" style="left:36px;width:90.5px;top:1630px"><span dir="ltr">0</span></div>
<div class="row d" style="left:129px;width:82px;top:1664px"><span dir="ltr">0.45<span class="pc">%</span></span></div>
<div class="row d" style="left:36px;width:90.5px;top:1664px"><span dir="ltr">3762.16</span></div>
<div class="row d" style="left:129px;width:82px;top:1698px"><span dir="ltr">27.3<span class="pc">%</span></span></div>
<div class="row d" style="left:36px;width:90.5px;top:1698px"><span dir="ltr">230222.8</span></div>
<div class="chart" style="left:589px;width:174px">
<div class="sw" style="left:134px;top:26.1px;background:#75195a"></div>
<div class="leg" style="right:43.4px;top:18.6px">אג"ח קונצרני סחיר ותעודות</div>
<div class="leg" style="right:43.4px;top:31.1px">סל אג"חיות</div>
<div class="sw" style="left:134px;top:53.1px;background:#929a3e"></div>
<div class="leg" style="right:43.4px;top:45.6px">מניות, אופציות ותעודות סל</div>
<div class="leg" style="right:43.4px;top:58.1px">מנייתיות</div>
<div class="sw" style="left:134px;top:74.1px;background:#800000"></div>
<div class="leg" style="right:43.4px;top:72.0px">מזומנים ושווי מזומנים</div>
<div class="sw" style="left:134px;top:89.1px;background:#38729a"></div>
<div class="leg" style="right:43.4px;top:87.0px">אג"ח מיועדות</div>
<div class="sw" style="left:134px;top:104.1px;background:#388a30"></div>
<div class="leg" style="right:43.4px;top:102.0px">אחר</div>
<svg width="173" height="440" viewBox="0 0 173 440" style="position:absolute;left:0;top:0"><defs><linearGradient id="g0_0" gradientUnits="userSpaceOnUse" x1="0.8" y1="0" x2="165.6" y2="0"><stop offset="0" stop-color="#000"/><stop offset="0.5" stop-color="#75195a"/><stop offset="1" stop-color="#000"/></linearGradient><linearGradient id="g0_1" gradientUnits="userSpaceOnUse" x1="0.8" y1="0" x2="165.6" y2="0"><stop offset="0" stop-color="#000"/><stop offset="0.5" stop-color="#929a3e"/><stop offset="1" stop-color="#000"/></linearGradient><linearGradient id="g0_2" gradientUnits="userSpaceOnUse" x1="0.8" y1="0" x2="165.6" y2="0"><stop offset="0" stop-color="#000"/><stop offset="0.5" stop-color="#800000"/><stop offset="1" stop-color="#000"/></linearGradient><linearGradient id="g0_3" gradientUnits="userSpaceOnUse" x1="0.8" y1="0" x2="165.6" y2="0"><stop offset="0" stop-color="#000"/><stop offset="0.5" stop-color="#38729a"/><stop offset="1" stop-color="#000"/></linearGradient><linearGradient id="g0_4" gradientUnits="userSpaceOnUse" x1="0.8" y1="0" x2="165.6" y2="0"><stop offset="0" stop-color="#000"/><stop offset="0.5" stop-color="#388a30"/><stop offset="1" stop-color="#000"/></linearGradient></defs><path d="M165.60,270.00 A82.4,71.4 0 0 1 121.84,333.06 L121.84,355.06 A82.4,71.4 0 0 0 165.60,292.00 Z" fill="url(#g0_0)"/><path d="M121.84,333.06 A82.4,71.4 0 0 1 0.84,272.36 L0.84,294.36 A82.4,71.4 0 0 0 121.84,355.06 Z" fill="url(#g0_1)"/><path d="M0.84,272.36 A82.4,71.4 0 0 1 0.80,270.00 L0.80,292.00 A82.4,71.4 0 0 0 0.84,294.36 Z" fill="url(#g0_2)"/><path d="M83.20,270.00 L165.60,270.00 A82.4,71.4 0 0 1 121.84,333.06 Z" fill="#75195a" stroke="#75195a" stroke-width="0.5"/><path d="M83.20,270.00 L121.84,333.06 A82.4,71.4 0 0 1 0.84,272.36 Z" fill="#929a3e" stroke="#929a3e" stroke-width="0.5"/><path d="M83.20,270.00 L0.84,272.36 A82.4,71.4 0 0 1 56.59,202.42 Z" fill="#800000" stroke="#800000" stroke-width="0.5"/><path d="M83.20,270.00 L56.59,202.42 A82.4,71.4 0 0 1 164.09,256.40 Z" fill="#38729a" stroke="#38729a" stroke-width="0.5"/><path d="M83.20,270.00 L164.09,256.40 A82.4,71.4 0 0 1 165.60,270.00 Z" fill="#388a30" stroke="#388a30" stroke-width="0.5"/><text x="117.5" y="292.2" font-family="Liberation Sans, sans-serif" font-size="10.7" fill="#fff" text-anchor="middle" direction="ltr">17.23%</text><text x="61.6" y="304.7" font-family="Liberation Sans, sans-serif" font-size="10.7" fill="#fff" text-anchor="middle" direction="ltr">32.24%</text><text x="48.3" y="253.5" font-family="Liberation Sans, sans-serif" font-size="10.7" fill="#fff" text-anchor="middle" direction="ltr">20.29%</text><text x="102.9" y="242.9" font-family="Liberation Sans, sans-serif" font-size="10.7" fill="#fff" text-anchor="middle" direction="ltr">27.18%</text><text x="123.2" y="270.4" font-family="Liberation Sans, sans-serif" font-size="10.7" fill="#fff" text-anchor="middle" direction="ltr">3.05%</text></svg>
</div>
<div class="chart" style="left:405px;width:174px">
<div class="sw" style="left:134px;top:20.1px;background:#75195a"></div>
<div class="leg" style="right:43.4px;top:18.1px">אג"ח ממשלתיות סחירות</div>
<div class="sw" style="left:134px;top:41.1px;background:#929a3e"></div>
<div class="leg" style="right:43.4px;top:33.6px">אג"ח קונצרני סחיר ותעודות</div>
<div class="leg" style="right:43.4px;top:46.1px">סל אג"חיות</div>
<div class="sw" style="left:134px;top:68.1px;background:#800000"></div>
<div class="leg" style="right:43.4px;top:60.6px">מניות, אופציות ותעודות סל</div>
<div class="leg" style="right:43.4px;top:73.1px">מנייתיות</div>
<div class="sw" style="left:134px;top:89.1px;background:#38729a"></div>
<div class="leg" style="right:43.4px;top:87.0px">מזומנים ושווי מזומנים</div>
<div class="sw" style="left:134px;top:104.1px;background:#2a2a68"></div>
<div class="leg" style="right:43.4px;top:102.0px">אג"ח מיועדות</div>
<div class="sw" style="left:134px;top:119.1px;background:#388a30"></div>
<div class="leg" style="right:43.4px;top:117.0px">אחר</div>
<svg width="173" height="440" viewBox="0 0 173 440" style="position:absolute;left:0;top:0"><defs><linearGradient id="g1_0" gradientUnits="userSpaceOnUse" x1="0.8" y1="0" x2="165.6" y2="0"><stop offset="0" stop-color="#000"/><stop offset="0.5" stop-color="#75195a"/><stop offset="1" stop-color="#000"/></linearGradient><linearGradient id="g1_1" gradientUnits="userSpaceOnUse" x1="0.8" y1="0" x2="165.6" y2="0"><stop offset="0" stop-color="#000"/><stop offset="0.5" stop-color="#929a3e"/><stop offset="1" stop-color="#000"/></linearGradient><linearGradient id="g1_2" gradientUnits="userSpaceOnUse" x1="0.8" y1="0" x2="165.6" y2="0"><stop offset="0" stop-color="#000"/><stop offset="0.5" stop-color="#800000"/><stop offset="1" stop-color="#000"/></linearGradient><linearGradient id="g1_3" gradientUnits="userSpaceOnUse" x1="0.8" y1="0" x2="165.6" y2="0"><stop offset="0" stop-color="#000"/><stop offset="0.5" stop-color="#38729a"/><stop offset="1" stop-color="#000"/></linearGradient><linearGradient id="g1_4" gradientUnits="userSpaceOnUse" x1="0.8" y1="0" x2="165.6" y2="0"><stop offset="0" stop-color="#000"/><stop offset="0.5" stop-color="#2a2a68"/><stop offset="1" stop-color="#000"/></linearGradient><linearGradient id="g1_5" gradientUnits="userSpaceOnUse" x1="0.8" y1="0" x2="165.6" y2="0"><stop offset="0" stop-color="#000"/><stop offset="0.5" stop-color="#388a30"/><stop offset="1" stop-color="#000"/></linearGradient></defs><path d="M165.60,277.40 A82.4,71.4 0 0 1 157.83,307.68 L157.83,329.68 A82.4,71.4 0 0 0 165.60,299.40 Z" fill="url(#g1_0)"/><path d="M157.83,307.68 A82.4,71.4 0 0 1 72.37,348.18 L72.37,370.18 A82.4,71.4 0 0 0 157.83,329.68 Z" fill="url(#g1_1)"/><path d="M72.37,348.18 A82.4,71.4 0 0 1 0.80,277.40 L0.80,299.40 A82.4,71.4 0 0 0 72.37,370.18 Z" fill="url(#g1_2)"/><path d="M83.20,277.40 L165.60,277.40 A82.4,71.4 0 0 1 157.83,307.68 Z" fill="#75195a" stroke="#75195a" stroke-width="0.5"/><path d="M83.20,277.40 L157.83,307.68 A82.4,71.4 0 0 1 72.37,348.18 Z" fill="#929a3e" stroke="#929a3e" stroke-width="0.5"/><path d="M83.20,277.40 L72.37,348.18 A82.4,71.4 0 0 1 14.03,238.60 Z" fill="#800000" stroke="#800000" stroke-width="0.5"/><path d="M83.20,277.40 L14.03,238.60 A82.4,71.4 0 0 1 65.54,207.66 Z" fill="#38729a" stroke="#38729a" stroke-width="0.5"/><path d="M83.20,277.40 L65.54,207.66 A82.4,71.4 0 0 1 164.96,268.54 Z" fill="#2a2a68" stroke="#2a2a68" stroke-width="0.5"/><path d="M83.20,277.40 L164.96,268.54 A82.4,71.4 0 0 1 165.60,277.40 Z" fill="#388a30" stroke="#388a30" stroke-width="0.5"/><text x="122.4" y="289.0" font-family="Liberation Sans, sans-serif" font-size="10.7" fill="#fff" text-anchor="middle" direction="ltr">6.97%</text><text x="102.0" y="312.5" font-family="Liberation Sans, sans-serif" font-size="10.7" fill="#fff" text-anchor="middle" direction="ltr">20.13%</text><text x="44.8" y="296.2" font-family="Liberation Sans, sans-serif" font-size="10.7" fill="#fff" text-anchor="middle" direction="ltr">32.05%</text><text x="58.7" y="251.9" font-family="Liberation Sans, sans-serif" font-size="10.7" fill="#fff" text-anchor="middle" direction="ltr">12.42%</text><text x="106.0" y="252.0" font-family="Liberation Sans, sans-serif" font-size="10.7" fill="#fff" text-anchor="middle" direction="ltr">26.46%</text><text x="123.3" y="279.0" font-family="Liberation Sans, sans-serif" font-size="10.7" fill="#fff" text-anchor="middle" direction="ltr">1.98%</text></svg>
</div>
<div class="chart" style="left:221px;width:174px">
<div class="sw" style="left:134px;top:20.1px;background:#75195a"></div>
<div class="leg" style="right:43.4px;top:18.1px">אג"ח ממשלתיות סחירות</div>
<div class="sw" style="left:134px;top:41.1px;background:#929a3e"></div>
<div class="leg" style="right:43.4px;top:33.6px">מניות, אופציות ותעודות סל</div>
<div class="leg" style="right:43.4px;top:46.1px">מנייתיות</div>
<div class="sw" style="left:134px;top:62.1px;background:#800000"></div>
<div class="leg" style="right:43.4px;top:60.0px">מזומנים ושווי מזומנים</div>
<div class="sw" style="left:134px;top:77.1px;background:#38729a"></div>
<div class="leg" style="right:43.4px;top:75.0px">אג"ח מיועדות</div>
<div class="sw" style="left:134px;top:92.1px;background:#388a30"></div>
<div class="leg" style="right:43.4px;top:90.0px">אחר</div>
<svg width="173" height="440" viewBox="0 0 173 440" style="position:absolute;left:0;top:0"><defs><linearGradient id="g2_0" gradientUnits="userSpaceOnUse" x1="0.8" y1="0" x2="165.6" y2="0"><stop offset="0" stop-color="#000"/><stop offset="0.5" stop-color="#75195a"/><stop offset="1" stop-color="#000"/></linearGradient><linearGradient id="g2_1" gradientUnits="userSpaceOnUse" x1="0.8" y1="0" x2="165.6" y2="0"><stop offset="0" stop-color="#000"/><stop offset="0.5" stop-color="#929a3e"/><stop offset="1" stop-color="#000"/></linearGradient><linearGradient id="g2_2" gradientUnits="userSpaceOnUse" x1="0.8" y1="0" x2="165.6" y2="0"><stop offset="0" stop-color="#000"/><stop offset="0.5" stop-color="#800000"/><stop offset="1" stop-color="#000"/></linearGradient><linearGradient id="g2_3" gradientUnits="userSpaceOnUse" x1="0.8" y1="0" x2="165.6" y2="0"><stop offset="0" stop-color="#000"/><stop offset="0.5" stop-color="#38729a"/><stop offset="1" stop-color="#000"/></linearGradient><linearGradient id="g2_4" gradientUnits="userSpaceOnUse" x1="0.8" y1="0" x2="165.6" y2="0"><stop offset="0" stop-color="#000"/><stop offset="0.5" stop-color="#388a30"/><stop offset="1" stop-color="#000"/></linearGradient></defs><path d="M165.60,264.20 A82.4,71.4 0 0 1 31.96,320.12 L31.96,342.12 A82.4,71.4 0 0 0 165.60,286.20 Z" fill="url(#g2_0)"/><path d="M31.96,320.12 A82.4,71.4 0 0 1 0.80,264.20 L0.80,286.20 A82.4,71.4 0 0 0 31.96,342.12 Z" fill="url(#g2_1)"/><path d="M83.20,264.20 L165.60,264.20 A82.4,71.4 0 0 1 31.96,320.12 Z" fill="#75195a" stroke="#75195a" stroke-width="0.5"/><path d="M83.20,264.20 L31.96,320.12 A82.4,71.4 0 0 1 2.41,250.17 Z" fill="#929a3e" stroke="#929a3e" stroke-width="0.5"/><path d="M83.20,264.20 L2.41,250.17 A82.4,71.4 0 0 1 15.75,223.18 Z" fill="#800000" stroke="#800000" stroke-width="0.5"/><path d="M83.20,264.20 L15.75,223.18 A82.4,71.4 0 0 1 159.99,238.32 Z" fill="#38729a" stroke="#38729a" stroke-width="0.5"/><path d="M83.20,264.20 L159.99,238.32 A82.4,71.4 0 0 1 165.60,264.20 Z" fill="#388a30" stroke="#388a30" stroke-width="0.5"/><text x="100.1" y="300.1" font-family="Liberation Sans, sans-serif" font-size="10.7" fill="#fff" text-anchor="middle" direction="ltr">36.38%</text><text x="43.5" y="280.3" font-family="Liberation Sans, sans-serif" font-size="10.7" fill="#fff" text-anchor="middle" direction="ltr">17.81%</text><text x="44.3" y="253.9" font-family="Liberation Sans, sans-serif" font-size="10.7" fill="#fff" text-anchor="middle" direction="ltr">6.72%</text><text x="87.2" y="232.6" font-family="Liberation Sans, sans-serif" font-size="10.7" fill="#fff" text-anchor="middle" direction="ltr">35.03%</text><text x="122.7" y="261.4" font-family="Liberation Sans, sans-serif" font-size="10.7" fill="#fff" text-anchor="middle" direction="ltr">6.02%</text></svg>
</div>
<div class="chart" style="left:37px;width:174px">
<div class="sw" style="left:128.7px;top:20.1px;background:#75195a"></div>
<div class="leg" style="right:48.7px;top:18.1px">אג"ח ממשלתיות סחירות</div>
<div class="sw" style="left:128.7px;top:35.1px;background:#929a3e"></div>
<div class="leg" style="right:48.7px;top:33.0px">מזומנים ושווי מזומנים</div>
<div class="sw" style="left:128.7px;top:50.1px;background:#800000"></div>
<div class="leg" style="right:48.7px;top:48.0px">אג"ח מיועדות</div>
<div class="sw" style="left:128.7px;top:65.1px;background:#388a30"></div>
<div class="leg" style="right:48.7px;top:63.0px">אחר</div>
<svg width="173" height="440" viewBox="0 0 173 440" style="position:absolute;left:0;top:0"><defs><linearGradient id="g3_0" gradientUnits="userSpaceOnUse" x1="0.8" y1="0" x2="165.6" y2="0"><stop offset="0" stop-color="#000"/><stop offset="0.5" stop-color="#75195a"/><stop offset="1" stop-color="#000"/></linearGradient><linearGradient id="g3_1" gradientUnits="userSpaceOnUse" x1="0.8" y1="0" x2="165.6" y2="0"><stop offset="0" stop-color="#000"/><stop offset="0.5" stop-color="#929a3e"/><stop offset="1" stop-color="#000"/></linearGradient><linearGradient id="g3_2" gradientUnits="userSpaceOnUse" x1="0.8" y1="0" x2="165.6" y2="0"><stop offset="0" stop-color="#000"/><stop offset="0.5" stop-color="#800000"/><stop offset="1" stop-color="#000"/></linearGradient><linearGradient id="g3_3" gradientUnits="userSpaceOnUse" x1="0.8" y1="0" x2="165.6" y2="0"><stop offset="0" stop-color="#000"/><stop offset="0.5" stop-color="#388a30"/><stop offset="1" stop-color="#000"/></linearGradient></defs><path d="M165.60,250.40 A82.4,71.4 0 0 1 0.80,250.40 L0.80,272.40 A82.4,71.4 0 0 0 165.60,272.40 Z" fill="url(#g3_0)"/><path d="M83.20,250.40 L165.60,250.40 A82.4,71.4 0 1 1 16.40,208.59 Z" fill="#75195a" stroke="#75195a" stroke-width="0.5"/><path d="M83.20,250.40 L16.40,208.59 A82.4,71.4 0 0 1 67.76,180.27 Z" fill="#929a3e" stroke="#929a3e" stroke-width="0.5"/><path d="M83.20,250.40 L67.76,180.27 A82.4,71.4 0 0 1 165.43,245.88 Z" fill="#800000" stroke="#800000" stroke-width="0.5"/><path d="M83.20,250.40 L165.43,245.88 A82.4,71.4 0 0 1 165.60,250.40 Z" fill="#388a30" stroke="#388a30" stroke-width="0.5"/><text x="69.5" y="288.2" font-family="Liberation Sans, sans-serif" font-size="10.7" fill="#fff" text-anchor="middle" direction="ltr">60.64%</text><text x="60.1" y="224.1" font-family="Liberation Sans, sans-serif" font-size="10.7" fill="#fff" text-anchor="middle" direction="ltr">12.18%</text><text x="107.4" y="226.0" font-family="Liberation Sans, sans-serif" font-size="10.7" fill="#fff" text-anchor="middle" direction="ltr">27.3%</text><text x="123.4" y="253.1" font-family="Liberation Sans, sans-serif" font-size="10.7" fill="#fff" text-anchor="middle" direction="ltr">1.02%</text></svg>
</div>
</body></html>
